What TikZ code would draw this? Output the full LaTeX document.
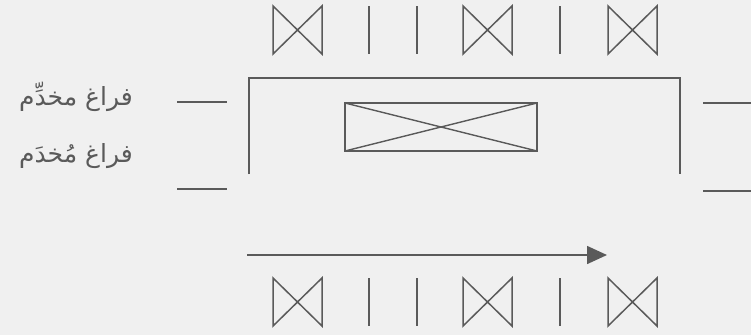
\documentclass[tikz,border=0pt]{standalone}
\usepackage{fontspec}
\newfontfamily\arabicfont[Script=Arabic]{DejaVu Sans}
\TeXXeTstate=1
\usetikzlibrary{arrows.meta,positioning}
\definecolor{ink}{HTML}{5A5A5A}
\definecolor{paper}{HTML}{F0F0F0}
\tikzset{
  wall/.style   = {draw=ink, line width=1.6pt},
  bowtie/.style = {draw=ink, line width=1.5pt, line join=miter},
  label/.style  = {font=\arabicfont\fontsize{25}{28}\selectfont, text=ink,
                   inner sep=0pt, anchor=base east},
  arr/.style    = {-{Triangle[length=20pt,width=18pt]}, draw=ink,
                   fill=ink, line width=1.6pt},
}

\begin{document}
\begin{tikzpicture}[x=1pt, y=-1pt]

%% ── Canvas ────────────────────────────────────────────────
\fill[paper] (0,0) rectangle (751,335);
\useasboundingbox (0,0) rectangle (751,335);

%% ── Labels ────────────────────────────────────────────────
\node[label] (served)  at (133,105) {\beginR فراغ مخدِّم\endR};
\node[label] (service) at (133,162) {\beginR فراغ مُخدَم\endR};

%% ── Fixtures, top and bottom rows ─────────────────────────
\foreach \y/\h in {6/48, 278/48} {
  \foreach \x in {273, 463, 608}
    \draw[bowtie] (\x,\y) -- (\x+49,\y+\h) -- (\x+49,\y) -- (\x,\y+\h) -- cycle;
  \foreach \x in {369, 417, 560}
    \draw[bowtie] (\x,\y) -- (\x,\y+\h);
}

%% ── Room ──────────────────────────────────────────────────
\coordinate (wl) at (249,174);
\coordinate (tl) at (249,78);
\coordinate (tr) at (680,78);
\coordinate (wr) at (680,174);
\draw[wall] (wl) -- (tl) -- (tr) -- (wr);

%% ── Inner box ─────────────────────────────────────────────
\coordinate (b1) at (345,103);
\coordinate (b2) at (537,151);
\draw[wall, line width=1.4pt] (b1) rectangle (b2);
\draw[wall, line width=1.4pt] (b1) -- (b2);
\draw[wall, line width=1.4pt] (b1 |- b2) -- (b2 |- b1);

%% ── Openings ──────────────────────────────────────────────
\coordinate (la1) at (177,102); \coordinate (la2) at (227,102);
\coordinate (lb1) at (177,189); \coordinate (lb2) at (227,189);
\coordinate (ra1) at (703,103); \coordinate (ra2) at (751,103);
\coordinate (rb1) at (703,191); \coordinate (rb2) at (751,191);
\draw[wall] (la1) -- (la2);
\draw[wall] (lb1) -- (lb2);
\draw[wall] (ra1) -- (ra2);
\draw[wall] (rb1) -- (rb2);

%% ── Flow arrow ────────────────────────────────────────────
\coordinate (fs) at (247,255);
\coordinate (fe) at (607,255);
\draw[arr] (fs) -- (fe);

\end{tikzpicture}
\end{document}
